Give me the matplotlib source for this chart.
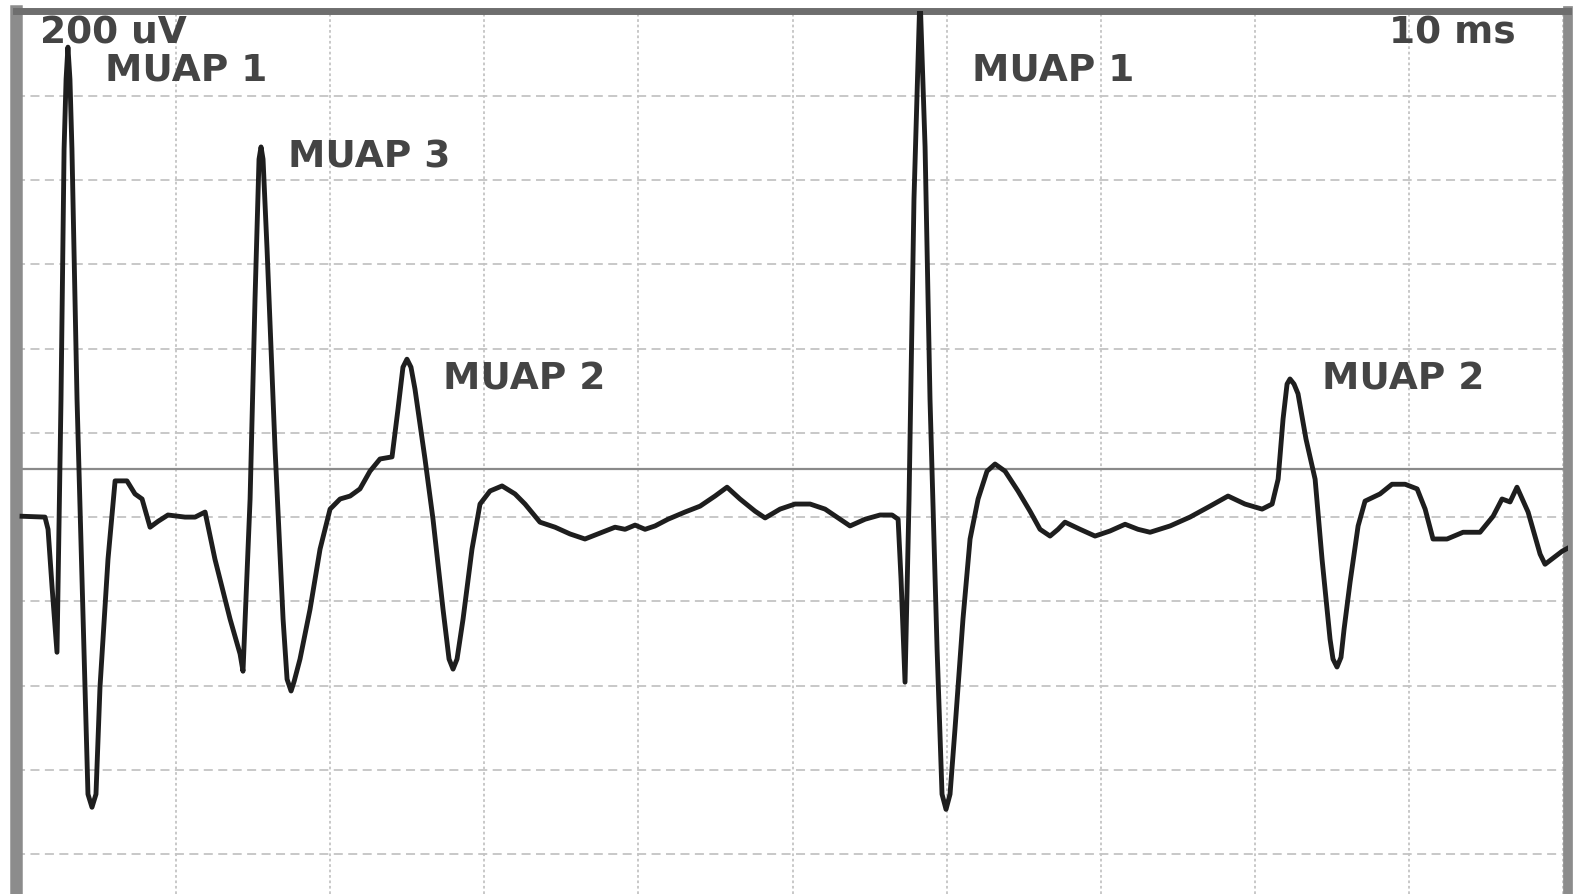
import matplotlib
matplotlib.use("Agg")
import matplotlib.pyplot as plt

# EMG trace, time in ms, amplitude in uV
t_ms = [0, 1.49, 1.69, 1.95, 2.27, 2.53, 2.73, 2.86, 2.98, 3.11, 3.24, 3.57, 4.02, 4.28,
        4.54, 4.80, 5.06, 5.58,
        6.04, 6.81, 7.33, 7.79, 8.31, 8.83, 9.47, 10.58, 11.23, 11.88, 12.52, 13.50, 14.15,
        14.34, 14.80, 15.12, 15.38, 15.51, 15.64, 15.90, 16.42, 16.94, 17.20, 17.46, 17.66,
        18.04, 18.69, 19.34, 19.99, 20.64,
        21.29, 21.93, 22.58, 23.23, 24.01, 24.40, 24.72, 24.98, 25.24, 25.50, 26.15, 26.67,
        27.32, 27.71, 27.97, 28.23,
        28.62, 29.20, 29.72, 30.37, 31.15, 31.99, 32.64, 33.61, 34.59, 35.56, 36.53, 37.51,
        38.48, 39.13, 39.78, 40.43, 41.08, 41.92, 43.02, 44.00, 44.97, 45.75, 46.59, 47.57,
        48.22, 49.19, 50.16, 51.14, 52.11, 53.08, 53.73, 54.71, 55.68, 56.46, 56.85, 57.04,
        57.30, 57.56, 57.88, 58.27, 58.60, 58.92, 59.38, 59.70, 59.96, 60.22, 60.54, 61.06,
        61.52, 62.04,
        62.62, 63.14, 63.79, 64.63, 65.41, 66.06, 66.71, 67.23, 67.68, 68.66, 69.63, 70.60,
        71.58, 72.42, 73.20, 74.50, 75.79, 77.09, 78.26, 79.36, 80.47, 81.12, 81.51, 81.83,
        82.09, 82.28, 82.54, 82.80, 83.32, 83.91, 84.36, 84.88, 85.07, 85.33, 85.59, 85.79,
        86.18, 86.70, 87.15, 88.12,
        88.90, 89.75, 90.53, 91.05, 91.56, 92.47, 93.51, 94.61, 95.46, 96.04, 96.56, 97.01,
        97.73, 98.51, 98.83, 99.94, 100.45]
amp_uv = [2, 0, -29, -166, -321, 280, 874, 1040, 1116, 1040, 874, 280, -314, -658,
          -689, -658, -404, -100,
          86, 86, 55, 43, -24, -10, 5, 0, 0, 12, -100, -242, -325,
          -366, 43, 518, 850, 879, 850, 637, 162, -242, -385, -413, -390,
          -337, -219, -76, 19, 43,
          50, 67, 109, 138, 143, 257, 356, 375, 356, 304, 138, -5,
          -219, -337, -361, -337,
          -242, -76, 31, 62, 74, 55, 31, -12, -24, -40, -52, -38,
          -24, -29, -19, -29, -21, -5, 12, 26, 50, 71, 43, 14,
          -2, 19, 31, 31, 19, -5, -21, -5, 5, 5, -5, -147,
          -392, 43, 755, 1242, 879, 280, -314, -658, -694, -658, -504, -242,
          -52, 43,
          109, 126, 109, 62, 14, -29, -45, -29, -12, -29, -45, -33,
          -17, -29, -36, -21, 0, 26, 50, 31, 19, 31, 90, 233,
          316, 328, 316, 293, 185, 90, -100, -290, -337, -356, -333, -266,
          -154, -21, 38, 55,
          78, 78, 67, 19, -52, -52, -36, -36, 2, 43, 36, 71,
          12, -88, -112, -81, -71]

baseline_uv = 114
labels = ["MUAP 1", "MUAP 3", "MUAP 2", "MUAP 1", "MUAP 2"]
label_t = [5.39, 17.26, 27.32, 61.65, 84.36]
label_v = [1062, 857, 328, 1062, 328]

fig = plt.figure(figsize=(15.74, 8.95), dpi=100)
ax = fig.add_axes([16 / 1574, 0, (1568 - 16) / 1574, (895 - 11.5) / 895])
ax.set_xlim(-0.39, 100.32)
ax.set_ylim(-895, 1203)

for x in range(10, 101, 10):
    ax.axvline(x, color="#c4c4c4", lw=1.3, ls=(0, (1.5, 1.5)), zorder=1)
for y in range(-800, 1001, 200):
    ax.axhline(y, color="#c4c4c4", lw=1.3, ls=(0, (5, 3)), zorder=1)
ax.axhline(baseline_uv, color="#8a8a8a", lw=1.6, zorder=2)

ax.plot(t_ms, amp_uv, color="#1e1e1e", lw=3.5, solid_joinstyle="round", zorder=3)

for s, x, y in zip(labels, label_t, label_v):
    ax.text(x, y, s, fontsize=27, fontweight="bold", color="#444444", ha="left", va="center")
ax.text(1.17, 1150, "200 uV", fontsize=27, fontweight="bold", color="#444444",
        ha="left", va="center")
ax.text(96.9, 1150, "10 ms", fontsize=27, fontweight="bold", color="#444444",
        ha="right", va="center")

ax.set_xticks([])
ax.set_yticks([])
ax.spines["bottom"].set_visible(False)
ax.spines["left"].set_linewidth(9)
ax.spines["left"].set_color("#8c8c8c")
ax.spines["right"].set_linewidth(7)
ax.spines["right"].set_color("#8c8c8c")
ax.spines["top"].set_linewidth(5)
ax.spines["top"].set_color("#6e6e6e")

fig.savefig("out.png", dpi=100)
